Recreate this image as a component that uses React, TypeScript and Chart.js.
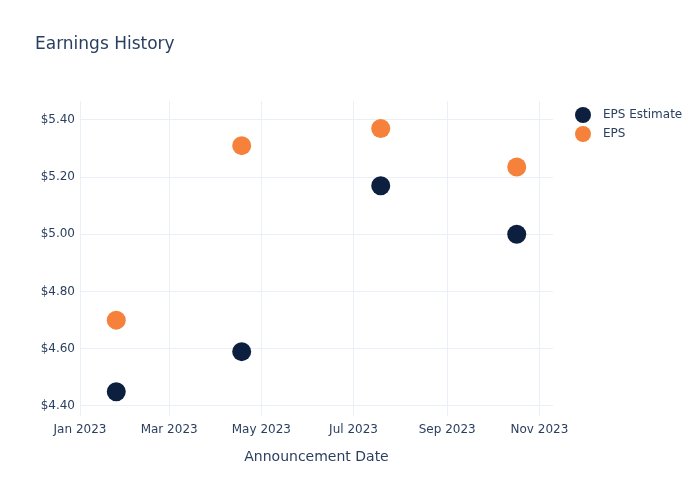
import React, { useEffect, useRef } from "react";
import { Chart, registerables } from "chart.js";

Chart.register(...registerables);

const announcementDates = ["2023-01-25", "2023-04-18", "2023-07-19", "2023-10-17"];
const epsEstimate = [4.45, 4.59, 5.17, 5.0];
const epsActual = [4.7, 5.31, 5.37, 5.235];
const monthTicks = ["2023-01-01", "2023-03-01", "2023-05-01", "2023-07-01", "2023-09-01", "2023-11-01"];
const monthNames = ["Jan", "Feb", "Mar", "Apr", "May", "Jun", "Jul", "Aug", "Sep", "Oct", "Nov", "Dec"];
const yTicks = [4.4, 4.6, 4.8, 5.0, 5.2, 5.4];
const seriesNames = ["EPS Estimate", "EPS"];
const seriesColors = ["#0c1f3f", "#f5813a"];

const ts = (s: string) => Date.parse(s + "T00:00:00Z");
const FONT = "'DejaVu Sans', sans-serif";
const TEXT = "#2a3f5f";

export default function App() {
  const ref = useRef<HTMLCanvasElement | null>(null);
  useEffect(() => {
    if (!ref.current) return;
    const overlay = {
      id: "overlay",
      afterDraw(chart: any) {
        const ctx = chart.ctx;
        const area = chart.chartArea;
        ctx.save();
        ctx.fillStyle = TEXT;
        ctx.textBaseline = "middle";
        ctx.font = `17px ${FONT}`;
        ctx.textAlign = "left";
        ctx.fillText("Earnings History", 35, 45);
        ctx.font = `14px ${FONT}`;
        ctx.textAlign = "center";
        ctx.fillText("Announcement Date", (area.left + area.right) / 2, 457);
        ctx.font = `12px ${FONT}`;
        ctx.textAlign = "left";
        chart.data.datasets.forEach((ds: any, i: number) => {
          const y = 115 + i * 19;
          ctx.beginPath();
          ctx.fillStyle = ds.backgroundColor;
          ctx.arc(583, y, 8, 0, Math.PI * 2);
          ctx.fill();
          ctx.fillStyle = TEXT;
          ctx.fillText(ds.label, 603, y);
        });
        ctx.restore();
      },
    };
    const chart = new Chart(ref.current, {
      type: "scatter",
      data: {
        datasets: [
          {
            label: seriesNames[0],
            data: announcementDates.map((d, i) => ({ x: ts(d), y: epsEstimate[i] })),
            backgroundColor: seriesColors[0],
            borderColor: seriesColors[0],
            pointRadius: 9.5,
            borderWidth: 0,
          },
          {
            label: seriesNames[1],
            data: announcementDates.map((d, i) => ({ x: ts(d), y: epsActual[i] })),
            backgroundColor: seriesColors[1],
            borderColor: seriesColors[1],
            pointRadius: 9.5,
            borderWidth: 0,
          },
        ],
      },
      options: {
        animation: false,
        responsive: false,
        layout: { padding: { top: 101, right: 147, left: 0, bottom: 0 } },
        plugins: { legend: { display: false }, title: { display: false }, tooltip: { enabled: false } },
        scales: {
          x: {
            type: "linear",
            min: ts("2023-01-01"),
            max: ts("2023-11-10"),
            afterFit: (s: any) => { s.height = 84; },
            afterBuildTicks: (s: any) => { s.ticks = monthTicks.map((m) => ({ value: ts(m) })); },
            grid: { color: "#ebf0f8", drawTicks: false },
            border: { display: false },
            ticks: {
              padding: 7,
              color: TEXT,
              font: { family: FONT, size: 12 },
              maxRotation: 0,
              autoSkip: false,
              callback: (v: any) => {
                const d = new Date(Number(v));
                return `${monthNames[d.getUTCMonth()]} ${d.getUTCFullYear()}`;
              },
            },
          },
          y: {
            min: 4.365,
            max: 5.466,
            afterFit: (s: any) => { s.width = 80; },
            afterBuildTicks: (s: any) => { s.ticks = yTicks.map((v) => ({ value: v })); },
            grid: { color: "#ebf0f8", drawTicks: false },
            border: { display: false },
            ticks: {
              padding: 5,
              color: TEXT,
              font: { family: FONT, size: 12 },
              callback: (v: any) => `$${Number(v).toFixed(2)}`,
            },
          },
        },
      },
      plugins: [overlay],
    });
    return () => chart.destroy();
  }, []);
  return (
    <div style={{ position: "fixed", left: 0, top: 0, width: 700, height: 500, background: "#fff" }}>
      <canvas ref={ref} width={700} height={500} />
    </div>
  );
}
